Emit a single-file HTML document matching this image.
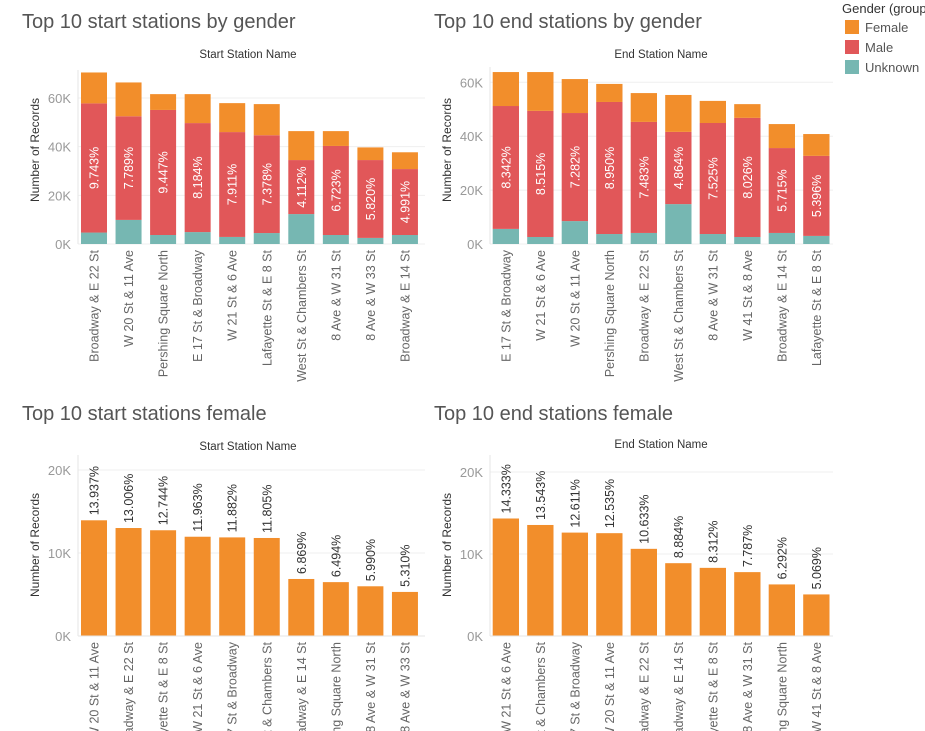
<!DOCTYPE html>
<html><head><meta charset="utf-8"><style>
html,body{margin:0;background:#fff;width:925px;height:731px;overflow:hidden;font-family:"Liberation Sans",sans-serif}
svg{display:block;overflow:hidden}
</style></head><body>
<svg id="c" width="925" height="731" viewBox="0 0 925 731" overflow="hidden" xmlns="http://www.w3.org/2000/svg">
<defs><clipPath id="frame"><rect x="0" y="0" width="925" height="731"/></clipPath></defs>
<g id="root" clip-path="url(#frame)">
<g font-size="13">
<text x="842" y="13" fill="#333">Gender (group)</text>
<rect x="845" y="20" width="14" height="14" fill="#f28e2b"/>
<text x="865" y="32" fill="#555">Female</text>
<rect x="845" y="40" width="14" height="14" fill="#e15759"/>
<text x="865" y="52" fill="#555">Male</text>
<rect x="845" y="60" width="14" height="14" fill="#76b7b2"/>
<text x="865" y="72" fill="#555">Unknown</text>
</g>
</g>
</svg>
<script>
// Top-left: start stations by gender (values in K)
const startNames=["Broadway & E 22 St","W 20 St & 11 Ave","Pershing Square North","E 17 St & Broadway","W 21 St & 6 Ave","Lafayette St & E 8 St","West St & Chambers St","8 Ave & W 31 St","8 Ave & W 33 St","Broadway & E 14 St"];
const startUnknown=[4.7,9.9,3.7,4.9,2.9,4.5,12.3,3.7,2.5,3.7];
const startMale=[53.1,42.6,51.4,44.8,43.1,40.2,22.2,36.6,32.0,27.1];
const startFemale=[12.7,13.9,6.5,11.9,11.9,12.8,11.9,6.1,5.2,6.9];
const startPct=["9.743%","7.789%","9.447%","8.184%","7.911%","7.378%","4.112%","6.723%","5.820%","4.991%"];
// Top-right: end stations by gender
const endNames=["E 17 St & Broadway","W 21 St & 6 Ave","W 20 St & 11 Ave","Pershing Square North","Broadway & E 22 St","West St & Chambers St","8 Ave & W 31 St","W 41 St & 8 Ave","Broadway & E 14 St","Lafayette St & E 8 St"];
const endUnknown=[5.6,2.6,8.5,3.7,4.1,14.8,3.7,2.6,4.1,3.0];
const endMale=[45.6,46.8,40.1,49.0,41.2,26.8,41.2,44.2,31.5,29.7];
const endFemale=[12.6,14.4,12.6,6.7,10.7,13.7,8.2,5.1,8.9,8.1];
const endPct=["8.342%","8.515%","7.282%","8.950%","7.483%","4.864%","7.525%","8.026%","5.715%","5.396%"];
// Bottom-left: start stations female
const fStartNames=["W 20 St & 11 Ave","Broadway & E 22 St","Lafayette St & E 8 St","W 21 St & 6 Ave","E 17 St & Broadway","West St & Chambers St","Broadway & E 14 St","Pershing Square North","8 Ave & W 31 St","8 Ave & W 33 St"];
const fStartVals=[13.94,13.01,12.74,11.96,11.88,11.81,6.87,6.49,5.99,5.31];
const fStartPct=["13.937%","13.006%","12.744%","11.963%","11.882%","11.805%","6.869%","6.494%","5.990%","5.310%"];
// Bottom-right: end stations female
const fEndNames=["W 21 St & 6 Ave","West St & Chambers St","E 17 St & Broadway","W 20 St & 11 Ave","Broadway & E 22 St","Broadway & E 14 St","Lafayette St & E 8 St","8 Ave & W 31 St","Pershing Square North","W 41 St & 8 Ave"];
const fEndVals=[14.33,13.54,12.61,12.54,10.63,8.88,8.31,7.79,6.29,5.07];
const fEndPct=["14.333%","13.543%","12.611%","12.535%","10.633%","8.884%","8.312%","7.787%","6.292%","5.069%"];
const tickTop=[0,20,40,60];
const tickBot=[0,10,20];
const tickTopLabels=["0K","20K","40K","60K"];
const tickBotLabels=["0K","10K","20K"];

const NS="http://www.w3.org/2000/svg";
const root=document.getElementById('root');
function mk(tag,attrs,parent,text){const e=document.createElementNS(NS,tag);for(const k in attrs)e.setAttribute(k,attrs[k]);if(text!==undefined)e.textContent=text;(parent||root).appendChild(e);return e;}
const COL={f:"#f28e2b",m:"#e15759",u:"#76b7b2"};

function panel(o){
  const g=mk('g',{});
  
  
  const y=v=>o.y0-v*o.pxPerK;
  const xb=i=>o.x0+o.pitch*i;
  const t=mk('text',{x:o.titleX,y:o.titleY,'font-size':20,fill:'#555'},g,o.title);
  
  
  const h=mk('text',{x:o.hdrX,y:o.hdrY,'font-size':11.5,fill:'#333','text-anchor':'middle'},g,o.hdr);
  
  
  o.ticks.forEach((tv,i)=>{
    const gl=mk('line',{x1:o.axX,x2:o.right,y1:y(tv),y2:y(tv),stroke:'#efefef'},g);
    
    
    const tl=mk('text',{x:o.axX-7,y:y(tv)+5,'font-size':13,fill:'#999','text-anchor':'end'},g,o.tickLabels[i]);
    
    
  });
  const ax=mk('line',{x1:o.axX,x2:o.axX,y1:o.axTop,y2:o.y0,stroke:'#e6e6e6'},g);
  
  
  const yt=mk('text',{x:0,y:0,'font-size':12,fill:'#333','text-anchor':'middle',transform:`translate(${o.ytX},${o.ytY}) rotate(-90)`},g,'Number of Records');
  
  
  o.names.forEach((n,i)=>{
    const x=xb(i),cx=x+o.bw/2;
    if(o.stack){
      const segs=[[0,o.u[i],COL.u,'unknown'],[o.u[i],o.m[i],COL.m,'male'],[o.u[i]+o.m[i],o.f[i],COL.f,'female']];
      segs.forEach(s=>{
        const r=mk('rect',{x:x,y:y(s[0]+s[1]),width:o.bw,height:s[1]*o.pxPerK,fill:s[2]},g);
        
        
      });
      const mid=y(o.u[i]+o.m[i]/2);
      const pl=mk('text',{x:0,y:0,'font-size':12.5,fill:'#fff','text-anchor':'middle',transform:`translate(${cx+4.5},${mid}) rotate(-90)`},g,o.pct[i]);
      
      
    }else{
      const r=mk('rect',{x:x,y:y(o.v[i]),width:o.bw,height:o.v[i]*o.pxPerK,fill:COL.f},g);
      
      
      const pl=mk('text',{x:0,y:0,'font-size':12.5,fill:'#333','text-anchor':'start',transform:`translate(${cx+4.5},${y(o.v[i])-5}) rotate(-90)`},g,o.pct[i]);
      
      
    }
    const xl=mk('text',{x:0,y:0,'font-size':12.5,fill:'#666','text-anchor':'end',transform:`translate(${cx+4.5},${o.y0+6}) rotate(-90)`},g,n);
    
    
  });
  if(o.baseLine){
    const bl=mk('line',{x1:o.axX,x2:o.right,y1:o.y0,y2:o.y0,stroke:'#e6e6e6'},g);
    
    
  }
}
panel({id:'chart-start-by-gender',stack:true,names:startNames,u:startUnknown,m:startMale,f:startFemale,pct:startPct,
  x0:81,pitch:34.55,bw:26,y0:244,pxPerK:2.433,axX:78,axTop:70,right:425,ticks:tickTop,tickLabels:tickTopLabels,
  title:'Top 10 start stations by gender',titleX:22,titleY:28,hdr:'Start Station Name',hdrX:248,hdrY:58,ytX:39,ytY:150});
panel({id:'chart-end-by-gender',stack:true,names:endNames,u:endUnknown,m:endMale,f:endFemale,pct:endPct,
  x0:492.7,pitch:34.5,bw:26.3,y0:244,pxPerK:2.695,axX:490,axTop:67,right:833,ticks:tickTop,tickLabels:tickTopLabels,
  title:'Top 10 end stations by gender',titleX:434,titleY:28,hdr:'End Station Name',hdrX:661,hdrY:58,ytX:451,ytY:150});
panel({id:'chart-start-female',stack:false,names:fStartNames,v:fStartVals,pct:fStartPct,baseLine:true,
  x0:81,pitch:34.55,bw:26,y0:636,pxPerK:8.3,axX:78,axTop:455,right:425,ticks:tickBot,tickLabels:tickBotLabels,
  title:'Top 10 start stations female',titleX:22,titleY:420,hdr:'Start Station Name',hdrX:248,hdrY:450,ytX:39,ytY:545});
panel({id:'chart-end-female',stack:false,names:fEndNames,v:fEndVals,pct:fEndPct,baseLine:true,
  x0:492.7,pitch:34.5,bw:26.3,y0:636,pxPerK:8.2,axX:490,axTop:455,right:833,ticks:tickBot,tickLabels:tickBotLabels,
  title:'Top 10 end stations female',titleX:434,titleY:420,hdr:'End Station Name',hdrX:661,hdrY:448,ytX:451,ytY:545});
</script>
</body></html>
